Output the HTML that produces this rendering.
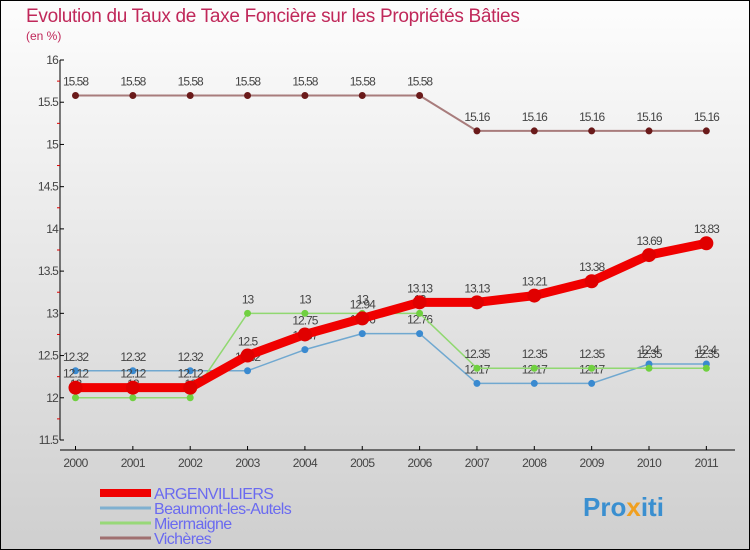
<!DOCTYPE html>
<html><head><meta charset="utf-8"><style>
body{margin:0}
#c{width:750px;height:550px;position:relative;overflow:hidden}
svg text{font-family:"Liberation Sans",sans-serif}
</style></head><body>
<div id="c">
<svg id="s" width="750" height="550" xmlns="http://www.w3.org/2000/svg">
<defs><linearGradient id="bg" x1="0" y1="0" x2="0" y2="1"><stop offset="0" stop-color="#fdfdfd"/><stop offset="1" stop-color="#cfcfcf"/></linearGradient></defs>
<rect x="0.5" y="0.5" width="749" height="549" fill="url(#bg)" stroke="#000"/>
<text x="26" y="22" font-size="19" fill="#c0285a" letter-spacing="-0.3">Evolution du Taux de Taxe Foncière sur les Propriétés Bâties</text>
<text x="26" y="40" font-size="12" fill="#c0285a">(en %)</text>
<g id="axes"></g><g id="series"></g><g id="legend"></g>
<text x="583" y="516" font-size="26" font-weight="bold" fill="#3a8fd0">Pro<tspan fill="#f0a020">x</tspan>iti</text>
</svg></div>
<script>
const years=[2000,2001,2002,2003,2004,2005,2006,2007,2008,2009,2010,2011];
const yTicks=[11.5,12,12.5,13,13.5,14,14.5,15,15.5,16];
const argenvilliers=[12.12,12.12,12.12,12.5,12.75,12.94,13.13,13.13,13.21,13.38,13.69,13.83];
const beaumont=[12.32,12.32,12.32,12.32,12.57,12.76,12.76,12.17,12.17,12.17,12.4,12.4];
const miermaigne=[12,12,12,13,13,13,13,12.35,12.35,12.35,12.35,12.35];
const vicheres=[15.58,15.58,15.58,15.58,15.58,15.58,15.58,15.16,15.16,15.16,15.16,15.16];
const NS="http://www.w3.org/2000/svg";
const xs=i=>75.5+i*57.35;
const ys=v=>440-(v-11.5)*(380/4.5);
function mk(tag,attrs,parent){const e=document.createElementNS(NS,tag);for(const k in attrs)e.setAttribute(k,attrs[k]);parent.appendChild(e);return e;}
const ax=document.getElementById('axes');
let l=mk('line',{x1:60,y1:60,x2:60,y2:440,stroke:'#000'},ax);


l=mk('line',{x1:60,y1:450,x2:735,y2:450,stroke:'#000'},ax);


yTicks.forEach((v,i)=>{
  mk('line',{x1:60,y1:ys(v),x2:64,y2:ys(v),stroke:'#000'},ax);
  if(i<yTicks.length-1) mk('line',{x1:57,y1:ys(v+0.25),x2:60,y2:ys(v+0.25),stroke:'#d00'},ax);
  const t=mk('text',{x:58,y:ys(v)+4,'font-size':12,fill:'#444','text-anchor':'end','letter-spacing':'-0.8'},ax);
  t.textContent=String(v);
  
  
});
years.forEach((y,i)=>{
  mk('line',{x1:xs(i),y1:446,x2:xs(i),y2:450,stroke:'#000'},ax);
  const t=mk('text',{x:xs(i),y:467,'font-size':12,fill:'#444','text-anchor':'middle','letter-spacing':'-0.6'},ax);
  t.textContent=String(y);
  
  
});
const sg=document.getElementById('series');
function series(vals,color,lw,r,dot,name,stroke){
  const g=mk('g',{},sg);
  
  
  const p=mk('polyline',{points:vals.map((v,i)=>xs(i)+','+ys(v)).join(' '),fill:'none',stroke:color,'stroke-width':lw,'stroke-linejoin':'round'},g);
  
  
  vals.forEach((v,i)=>{
    const c=mk('circle',{cx:xs(i),cy:ys(v),r:r,fill:dot,stroke:stroke,'stroke-width':1},g);
    
    
    const t=mk('text',{x:xs(i),y:ys(v)-10,'font-size':12,fill:'#444','text-anchor':'middle','letter-spacing':'-1'},g);
    t.textContent=String(v);
    
    
  });
}
series(vicheres,'#a87c7c',2,3.5,'#6a1a1a','#6a1a1a','vicheres');
series(beaumont,'#70a8d0',1.5,3.5,'#3a8ad0','#2a6aa0','beaumont-les-autels');
series(miermaigne,'#90d870',1.5,3.5,'#70d040','#50a030','miermaigne');
series(argenvilliers,'#f00000',9,7,'#e00000','#c00000','argenvilliers');
const lg=document.getElementById('legend');
const legendItems=[['ARGENVILLIERS','#f00000',8],['Beaumont-les-Autels','#7fb0d0',3],['Miermaigne','#98d878',3],['Vichères','#a07070',3]];
legendItems.forEach((it,i)=>{
  const y=493+i*15;
  const g=mk('g',{},lg);
  
  
  mk('line',{x1:100,y1:y,x2:151,y2:y,stroke:it[1],'stroke-width':it[2]},g);
  const t=mk('text',{x:154,y:y+6,'font-size':16,fill:'#6a6af0','letter-spacing':'-0.6'},g);
  t.textContent=it[0];
  
  
});
</script>
</body></html>
